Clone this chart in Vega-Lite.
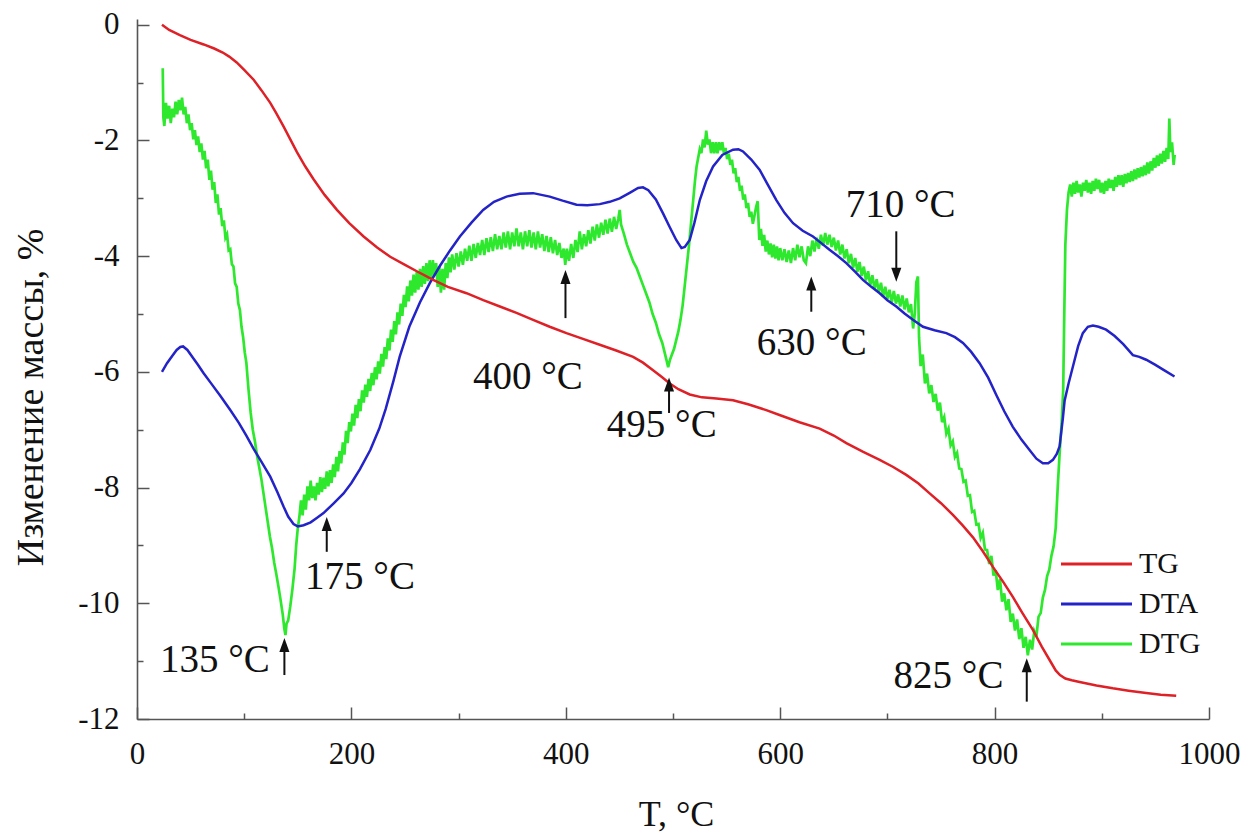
{
"$schema": "https://vega.github.io/schema/vega-lite/v6.json",
"width": 1072, "height": 700,
"autosize": {"type": "none"},
"padding": {"left": 137, "top": 19, "right": 35, "bottom": 119},
"background": "white",
"config": {
  "view": {"stroke": null},
  "font": "Liberation Serif",
  "axis": {"domainColor": "#555", "tickColor": "#555", "domainWidth": 1.6, "tickWidth": 1.5, "labelColor": "#111", "labelFontSize": 31, "labelFont": "Liberation Serif", "grid": false, "titleFont": "Liberation Serif", "titleColor": "#111", "titleFontWeight": "normal", "labelFlush": false, "labelOverlap": false}
},
"datasets": {
"tg": [
{"T":23.3,"v":0},{"T":30,"v":-0.09},{"T":40,"v":-0.18},{"T":50,"v":-0.26},{"T":62.2,"v":-0.34},{"T":72,"v":-0.41},{"T":80,"v":-0.48},{"T":86,"v":-0.55},{"T":93,"v":-0.65},{"T":100,"v":-0.78},{"T":108.8,"v":-0.95},{"T":116,"v":-1.13},{"T":124.3,"v":-1.35},{"T":130,"v":-1.53},{"T":136.8,"v":-1.76},{"T":143,"v":-1.98},{"T":149.2,"v":-2.2},{"T":157,"v":-2.45},{"T":164.7,"v":-2.67},{"T":175,"v":-2.94},{"T":186.5,"v":-3.2},{"T":198,"v":-3.43},{"T":211.4,"v":-3.66},{"T":224,"v":-3.85},{"T":236.2,"v":-4.01},{"T":250,"v":-4.15},{"T":261,"v":-4.26},{"T":276.3,"v":-4.41},{"T":290,"v":-4.53},{"T":307.4,"v":-4.64},{"T":323,"v":-4.76},{"T":338.5,"v":-4.87},{"T":354,"v":-4.98},{"T":369.5,"v":-5.1},{"T":385,"v":-5.22},{"T":400.6,"v":-5.33},{"T":416,"v":-5.43},{"T":431.7,"v":-5.53},{"T":447,"v":-5.63},{"T":462.8,"v":-5.74},{"T":472,"v":-5.84},{"T":481.4,"v":-5.97},{"T":489,"v":-6.08},{"T":497,"v":-6.2},{"T":505,"v":-6.3},{"T":515.6,"v":-6.39},{"T":527,"v":-6.44},{"T":540.5,"v":-6.46},{"T":556,"v":-6.49},{"T":570,"v":-6.56},{"T":587,"v":-6.66},{"T":600,"v":-6.75},{"T":618,"v":-6.87},{"T":636.8,"v":-6.98},{"T":650,"v":-7.1},{"T":661.7,"v":-7.23},{"T":677,"v":-7.38},{"T":692.8,"v":-7.52},{"T":705,"v":-7.64},{"T":717.6,"v":-7.78},{"T":729,"v":-7.93},{"T":739.4,"v":-8.1},{"T":750,"v":-8.27},{"T":761.1,"v":-8.47},{"T":770,"v":-8.65},{"T":779.8,"v":-8.86},{"T":789,"v":-9.1},{"T":798.4,"v":-9.37},{"T":808,"v":-9.63},{"T":817,"v":-9.89},{"T":826,"v":-10.17},{"T":835.7,"v":-10.46},{"T":844,"v":-10.75},{"T":851.3,"v":-10.98},{"T":857,"v":-11.16},{"T":861,"v":-11.24},{"T":866,"v":-11.3},{"T":872,"v":-11.33},{"T":879.3,"v":-11.36},{"T":895,"v":-11.42},{"T":910.3,"v":-11.47},{"T":925,"v":-11.51},{"T":941.4,"v":-11.55},{"T":955,"v":-11.58},{"T":969.4,"v":-11.6}
],
"dta": [
{"T":23.3,"v":-6.0},{"T":28,"v":-5.85},{"T":33,"v":-5.72},{"T":37,"v":-5.62},{"T":40.4,"v":-5.57},{"T":43,"v":-5.56},{"T":47,"v":-5.62},{"T":52,"v":-5.75},{"T":57,"v":-5.88},{"T":62,"v":-6.02},{"T":70,"v":-6.22},{"T":78,"v":-6.42},{"T":87,"v":-6.66},{"T":95,"v":-6.88},{"T":102,"v":-7.1},{"T":108.8,"v":-7.33},{"T":116,"v":-7.55},{"T":124.3,"v":-7.81},{"T":131,"v":-8.08},{"T":136.8,"v":-8.33},{"T":141,"v":-8.5},{"T":146,"v":-8.63},{"T":150,"v":-8.67},{"T":155.4,"v":-8.65},{"T":162,"v":-8.6},{"T":168,"v":-8.52},{"T":174,"v":-8.44},{"T":183,"v":-8.28},{"T":192.7,"v":-8.1},{"T":200,"v":-7.92},{"T":208,"v":-7.68},{"T":217.6,"v":-7.35},{"T":226,"v":-6.98},{"T":232,"v":-6.64},{"T":239.3,"v":-6.15},{"T":245,"v":-5.74},{"T":254,"v":-5.22},{"T":263.9,"v":-4.8},{"T":273,"v":-4.47},{"T":282.5,"v":-4.17},{"T":292,"v":-3.9},{"T":301.2,"v":-3.66},{"T":312,"v":-3.42},{"T":322.9,"v":-3.2},{"T":333,"v":-3.06},{"T":344.7,"v":-2.97},{"T":357,"v":-2.92},{"T":369.5,"v":-2.91},{"T":385,"v":-2.97},{"T":397,"v":-3.04},{"T":410,"v":-3.11},{"T":420,"v":-3.12},{"T":431.7,"v":-3.1},{"T":441,"v":-3.06},{"T":450.3,"v":-3.0},{"T":460,"v":-2.9},{"T":467.4,"v":-2.82},{"T":472,"v":-2.81},{"T":477,"v":-2.86},{"T":484,"v":-3.02},{"T":490.7,"v":-3.26},{"T":497,"v":-3.5},{"T":503,"v":-3.72},{"T":507.9,"v":-3.86},{"T":511,"v":-3.84},{"T":515.6,"v":-3.72},{"T":520,"v":-3.42},{"T":525,"v":-3.03},{"T":531,"v":-2.7},{"T":537.4,"v":-2.45},{"T":546,"v":-2.25},{"T":556,"v":-2.16},{"T":561,"v":-2.15},{"T":565.3,"v":-2.19},{"T":573,"v":-2.33},{"T":580.9,"v":-2.51},{"T":588,"v":-2.75},{"T":596.4,"v":-3.03},{"T":604,"v":-3.25},{"T":612,"v":-3.43},{"T":621,"v":-3.56},{"T":630.6,"v":-3.66},{"T":638,"v":-3.77},{"T":646,"v":-3.89},{"T":654,"v":-4.0},{"T":661.7,"v":-4.12},{"T":670,"v":-4.27},{"T":677.2,"v":-4.41},{"T":685,"v":-4.53},{"T":692.8,"v":-4.64},{"T":700,"v":-4.76},{"T":708.3,"v":-4.87},{"T":716,"v":-4.99},{"T":723.8,"v":-5.1},{"T":733.2,"v":-5.22},{"T":744,"v":-5.28},{"T":755,"v":-5.33},{"T":763,"v":-5.4},{"T":770.5,"v":-5.5},{"T":778,"v":-5.65},{"T":786,"v":-5.85},{"T":794,"v":-6.1},{"T":801.6,"v":-6.4},{"T":809,"v":-6.68},{"T":817,"v":-6.95},{"T":825,"v":-7.17},{"T":832.6,"v":-7.35},{"T":839,"v":-7.5},{"T":845,"v":-7.58},{"T":850,"v":-7.58},{"T":854.4,"v":-7.52},{"T":858,"v":-7.42},{"T":860.6,"v":-7.29},{"T":863.7,"v":-6.8},{"T":865.3,"v":-6.5},{"T":869,"v":-6.2},{"T":873,"v":-5.91},{"T":878,"v":-5.55},{"T":882.3,"v":-5.33},{"T":887,"v":-5.22},{"T":891.7,"v":-5.2},{"T":897,"v":-5.22},{"T":904,"v":-5.27},{"T":912,"v":-5.38},{"T":920,"v":-5.52},{"T":929,"v":-5.71},{"T":935,"v":-5.74},{"T":941.4,"v":-5.79},{"T":950,"v":-5.88},{"T":958,"v":-5.97},{"T":967.8,"v":-6.08}
],
"dtg": [
{"T":24,"v":-0.75},{"T":24.6,"v":-1.6},{"T":25.5,"v":-1.75},{"T":27,"v":-1.35},{"T":28.5,"v":-1.62},{"T":30,"v":-1.4},{"T":31.5,"v":-1.7},{"T":33,"v":-1.45},{"T":34.5,"v":-1.6},{"T":36,"v":-1.33},{"T":37.5,"v":-1.55},{"T":39,"v":-1.3},{"T":40.5,"v":-1.48},{"T":42,"v":-1.26},{"T":43.5,"v":-1.55},{"T":45,"v":-1.42},{"T":46.5,"v":-1.7},{"T":48,"v":-1.55},{"T":49.5,"v":-1.82},{"T":51,"v":-1.7},{"T":52.5,"v":-1.98},{"T":54,"v":-1.82},{"T":55.5,"v":-2.08},{"T":57,"v":-1.93},{"T":58.5,"v":-2.2},{"T":60,"v":-2.05},{"T":61.5,"v":-2.33},{"T":63,"v":-2.18},{"T":64.5,"v":-2.48},{"T":66,"v":-2.33},{"T":67.5,"v":-2.68},{"T":69,"v":-2.52},{"T":70.5,"v":-2.85},{"T":72,"v":-2.72},{"T":73.5,"v":-3.08},{"T":75,"v":-2.93},{"T":76.5,"v":-3.28},{"T":78,"v":-3.17},{"T":79.5,"v":-3.48},{"T":81,"v":-3.38},{"T":82.5,"v":-3.68},{"T":84,"v":-3.62},{"T":85.5,"v":-3.9},{"T":87,"v":-3.88},{"T":88.5,"v":-4.14},{"T":90,"v":-4.18},{"T":91.5,"v":-4.47},{"T":93,"v":-4.53},{"T":94.5,"v":-4.82},{"T":96,"v":-4.93},{"T":97.5,"v":-5.22},{"T":99,"v":-5.4},{"T":100.5,"v":-5.66},{"T":102,"v":-5.84},
{"T":104,"v":-6.3},{"T":106,"v":-6.7},{"T":108,"v":-7.0},{"T":110,"v":-7.2},{"T":112,"v":-7.45},{"T":114,"v":-7.65},{"T":116,"v":-7.85},{"T":118,"v":-8.1},{"T":120,"v":-8.35},{"T":122,"v":-8.6},{"T":124,"v":-8.85},{"T":126,"v":-9.05},{"T":128,"v":-9.3},{"T":130,"v":-9.5},{"T":132,"v":-9.72},{"T":134,"v":-9.95},{"T":136,"v":-10.2},{"T":137.5,"v":-10.45},{"T":138.5,"v":-10.55},{"T":139.5,"v":-10.35},{"T":141,"v":-10.3},{"T":143,"v":-10.05},{"T":145,"v":-9.75},{"T":147,"v":-9.4},{"T":148.5,"v":-9.0},{"T":150,"v":-8.7},{"T":151.5,"v":-8.5},
{"T":153,"v":-8.22},{"T":154.5,"v":-8.48},{"T":156,"v":-8.12},{"T":157.5,"v":-8.38},{"T":159,"v":-7.98},{"T":160.5,"v":-8.22},{"T":162,"v":-7.88},{"T":163.5,"v":-8.18},{"T":165,"v":-7.98},{"T":166.5,"v":-8.22},{"T":168,"v":-7.92},{"T":169.5,"v":-8.12},{"T":171,"v":-7.82},{"T":172.5,"v":-8.08},{"T":174,"v":-7.83},{"T":175.5,"v":-8.02},{"T":177,"v":-7.72},{"T":178.5,"v":-7.98},{"T":180,"v":-7.7},{"T":181.5,"v":-7.92},{"T":183,"v":-7.6},{"T":184.5,"v":-7.82},{"T":186,"v":-7.47},{"T":187.5,"v":-7.72},{"T":189,"v":-7.37},{"T":190.5,"v":-7.58},{"T":192,"v":-7.22},{"T":193.5,"v":-7.43},{"T":195,"v":-7.02},{"T":196.5,"v":-7.23},{"T":198,"v":-6.87},{"T":199.5,"v":-7.03},{"T":201,"v":-6.72},{"T":202.5,"v":-6.93},{"T":204,"v":-6.57},{"T":205.5,"v":-6.8},{"T":207,"v":-6.47},{"T":208.5,"v":-6.68},{"T":210,"v":-6.32},{"T":211.5,"v":-6.53},{"T":213,"v":-6.22},{"T":214.5,"v":-6.43},{"T":216,"v":-6.12},{"T":217.5,"v":-6.33},{"T":219,"v":-6.02},{"T":220.5,"v":-6.23},{"T":222,"v":-5.92},{"T":223.5,"v":-6.13},{"T":225,"v":-5.82},{"T":226.5,"v":-6.03},{"T":228,"v":-5.69},{"T":229.5,"v":-5.91},{"T":231,"v":-5.57},{"T":232.5,"v":-5.78},{"T":234,"v":-5.42},{"T":235.5,"v":-5.63},{"T":237,"v":-5.27},{"T":238.5,"v":-5.48},{"T":240,"v":-5.12},{"T":241.5,"v":-5.35},{"T":243,"v":-4.97},{"T":244.5,"v":-5.18},{"T":246,"v":-4.82},{"T":247.5,"v":-5.03},{"T":249,"v":-4.67},{"T":250.5,"v":-4.88},
{"T":252,"v":-4.52},{"T":253.5,"v":-4.78},{"T":255,"v":-4.42},{"T":256.5,"v":-4.68},{"T":258,"v":-4.32},{"T":259.5,"v":-4.63},{"T":261,"v":-4.27},{"T":262.5,"v":-4.58},{"T":264,"v":-4.22},{"T":265.5,"v":-4.53},{"T":267,"v":-4.17},{"T":268.5,"v":-4.48},{"T":270,"v":-4.12},{"T":271.5,"v":-4.43},{"T":273,"v":-4.07},{"T":274.5,"v":-4.38},{"T":276,"v":-4.07},{"T":277.5,"v":-4.33},{"T":279,"v":-4.12},{"T":280.5,"v":-4.53},{"T":282,"v":-4.17},{"T":283.5,"v":-4.63},{"T":285,"v":-4.22},{"T":286.5,"v":-4.58},{"T":288,"v":-4.12},{"T":289.5,"v":-4.38},{"T":291,"v":-4.02},{"T":292.5,"v":-4.28},{"T":294,"v":-3.97},{"T":296,"v":-4.23},{"T":298,"v":-3.95},{"T":300,"v":-4.18},{"T":302,"v":-3.92},{"T":304,"v":-4.15},{"T":306,"v":-3.87},{"T":308,"v":-4.08},{"T":310,"v":-3.82},{"T":312,"v":-4.08},{"T":314,"v":-3.79},{"T":316,"v":-4.03},{"T":318,"v":-3.77},{"T":320,"v":-3.98},{"T":322,"v":-3.72},{"T":324,"v":-3.98},{"T":326,"v":-3.69},{"T":328,"v":-3.93},{"T":330,"v":-3.67},{"T":332,"v":-3.91},{"T":334,"v":-3.62},{"T":336,"v":-3.88},{"T":338,"v":-3.65},{"T":340,"v":-3.88},{"T":342,"v":-3.59},{"T":344,"v":-3.85},{"T":346,"v":-3.57},{"T":348,"v":-3.88},{"T":350,"v":-3.59},{"T":352,"v":-3.83},{"T":354,"v":-3.52},{"T":356,"v":-3.83},{"T":358,"v":-3.59},{"T":360,"v":-3.88},{"T":362,"v":-3.57},{"T":364,"v":-3.83},{"T":366,"v":-3.55},{"T":368,"v":-3.85},{"T":370,"v":-3.59},{"T":372,"v":-3.88},{"T":374,"v":-3.57},{"T":376,"v":-3.85},{"T":378,"v":-3.62},{"T":380,"v":-3.91},{"T":382,"v":-3.65},{"T":384,"v":-3.93},{"T":386,"v":-3.67},{"T":388,"v":-3.95},{"T":390,"v":-3.72},{"T":392,"v":-3.98},{"T":394,"v":-3.77},{"T":396,"v":-4.03},{"T":398,"v":-3.87},{"T":399.5,"v":-4.15},{"T":401,"v":-3.87},{"T":403,"v":-4.08},{"T":405,"v":-3.79},{"T":407,"v":-4.03},{"T":409,"v":-3.72},{"T":411,"v":-3.93},{"T":413,"v":-3.57},{"T":415,"v":-3.88},{"T":417,"v":-3.62},{"T":419,"v":-3.83},{"T":421,"v":-3.55},{"T":423,"v":-3.78},{"T":425,"v":-3.49},{"T":427,"v":-3.73},{"T":429,"v":-3.45},{"T":431,"v":-3.68},{"T":433,"v":-3.42},{"T":435,"v":-3.63},{"T":437,"v":-3.37},{"T":439,"v":-3.61},{"T":441,"v":-3.35},{"T":443,"v":-3.58},{"T":445,"v":-3.32},{"T":447,"v":-3.53},{"T":449,"v":-3.35},{"T":450.3,"v":-3.2},{"T":451.5,"v":-3.45},
{"T":454,"v":-3.6},{"T":457,"v":-3.8},{"T":460,"v":-3.95},{"T":463,"v":-4.1},{"T":466,"v":-4.2},{"T":469,"v":-4.35},{"T":472,"v":-4.5},{"T":475,"v":-4.65},{"T":478,"v":-4.8},{"T":481,"v":-5.0},{"T":484,"v":-5.15},{"T":487,"v":-5.35},{"T":490,"v":-5.5},{"T":492,"v":-5.65},{"T":494,"v":-5.8},{"T":495.5,"v":-5.92},{"T":497,"v":-5.8},{"T":499,"v":-5.7},{"T":501,"v":-5.6},{"T":503,"v":-5.45},{"T":505,"v":-5.3},{"T":507,"v":-5.1},{"T":509,"v":-4.85},{"T":511,"v":-4.5},{"T":513,"v":-4.15},{"T":515,"v":-3.8},{"T":517,"v":-3.4},{"T":519,"v":-3.0},{"T":520.5,"v":-2.7},{"T":522,"v":-2.45},{"T":523.5,"v":-2.3},{"T":525,"v":-2.15},{"T":526.5,"v":-2.22},{"T":528,"v":-1.98},{"T":529.5,"v":-2.12},{"T":531,"v":-1.83},{"T":532.5,"v":-2.07},{"T":534,"v":-1.98},{"T":535.5,"v":-2.22},{"T":537,"v":-2.03},{"T":538.5,"v":-2.22},{"T":540,"v":-2.03},{"T":541.5,"v":-2.22},{"T":543,"v":-2.03},{"T":544.5,"v":-2.17},{"T":546,"v":-2.03},{"T":547.5,"v":-2.22},{"T":549,"v":-2.13},{"T":550.5,"v":-2.32},{"T":552,"v":-2.23},{"T":553.5,"v":-2.42},{"T":555,"v":-2.33},{"T":556.5,"v":-2.57},{"T":558,"v":-2.48},{"T":559.5,"v":-2.72},{"T":561,"v":-2.63},{"T":562.5,"v":-2.87},{"T":564,"v":-2.78},{"T":565.5,"v":-3.02},{"T":567,"v":-2.93},{"T":568.5,"v":-3.17},{"T":570,"v":-3.08},{"T":571.5,"v":-3.32},{"T":573,"v":-3.23},{"T":574.5,"v":-3.44},{"T":576,"v":-3.3},{"T":577.5,"v":-3.15},{"T":579,"v":-3.05},{"T":580.5,"v":-3.72},{"T":582,"v":-3.53},{"T":583.5,"v":-3.82},{"T":585,"v":-3.63},{"T":586.5,"v":-3.92},{"T":588,"v":-3.73},{"T":589.5,"v":-3.97},{"T":591,"v":-3.78},{"T":592.5,"v":-4.02},{"T":594,"v":-3.8},{"T":595.5,"v":-4.04},{"T":597,"v":-3.83},{"T":598.5,"v":-4.07},{"T":600,"v":-3.86},{"T":602,"v":-4.07},{"T":604,"v":-3.88},{"T":606,"v":-4.1},{"T":608,"v":-3.9},{"T":610,"v":-4.12},{"T":612,"v":-3.86},{"T":614,"v":-4.07},{"T":616,"v":-3.8},{"T":618,"v":-4.02},{"T":620,"v":-3.83},{"T":622,"v":-4.07},{"T":624,"v":-4.12},{"T":626,"v":-3.83},{"T":628,"v":-4.0},{"T":630,"v":-3.73},{"T":632,"v":-3.92},{"T":634,"v":-3.68},{"T":636,"v":-3.87},{"T":638,"v":-3.63},{"T":640,"v":-3.82},{"T":642,"v":-3.6},{"T":644,"v":-3.8},{"T":646,"v":-3.63},{"T":648,"v":-3.84},{"T":650,"v":-3.68},{"T":652,"v":-3.9},{"T":654,"v":-3.73},{"T":656,"v":-3.97},{"T":658,"v":-3.8},{"T":660,"v":-4.04},{"T":662,"v":-3.88},{"T":664,"v":-4.12},{"T":666,"v":-3.96},{"T":668,"v":-4.2},{"T":670,"v":-4.03},{"T":672,"v":-4.27},{"T":674,"v":-4.1},{"T":676,"v":-4.34},{"T":678,"v":-4.18},{"T":680,"v":-4.42},{"T":682,"v":-4.26},{"T":684,"v":-4.5},{"T":686,"v":-4.33},{"T":688,"v":-4.57},{"T":690,"v":-4.4},{"T":692,"v":-4.62},{"T":694,"v":-4.46},{"T":696,"v":-4.7},{"T":698,"v":-4.53},{"T":700,"v":-4.74},{"T":702,"v":-4.58},{"T":704,"v":-4.8},{"T":706,"v":-4.6},{"T":708,"v":-4.82},{"T":710,"v":-4.66},{"T":712,"v":-4.87},{"T":714,"v":-4.68},{"T":716,"v":-4.92},{"T":718,"v":-4.73},{"T":720,"v":-4.97},{"T":722,"v":-4.83},{"T":724,"v":-5.25},{"T":725.5,"v":-5.0},{"T":727,"v":-4.45},{"T":728.5,"v":-4.35},{"T":729.5,"v":-5.4},{"T":731,"v":-5.9},{"T":733,"v":-5.7},{"T":735,"v":-6.2},{"T":737,"v":-6.03},{"T":739,"v":-6.37},{"T":741,"v":-6.23},{"T":743,"v":-6.52},{"T":745,"v":-6.38},{"T":747,"v":-6.67},{"T":749,"v":-6.53},{"T":751,"v":-6.87},{"T":753,"v":-6.78},{"T":755,"v":-7.07},{"T":757,"v":-6.98},{"T":759,"v":-7.27},{"T":761,"v":-7.2},{"T":763,"v":-7.47},{"T":765,"v":-7.4},{"T":767,"v":-7.67},{"T":769,"v":-7.68},{"T":771,"v":-7.9},{"T":773,"v":-7.88},{"T":775,"v":-8.14},{"T":777,"v":-8.13},{"T":779,"v":-8.42},{"T":781,"v":-8.4},{"T":783,"v":-8.64},{"T":785,"v":-8.63},{"T":787,"v":-8.87},{"T":789,"v":-8.78},{"T":791,"v":-9.07},{"T":793,"v":-9.08},{"T":795,"v":-9.32},{"T":797,"v":-9.18},{"T":799,"v":-9.52},{"T":801,"v":-9.43},{"T":803,"v":-9.77},{"T":805,"v":-9.58},{"T":807,"v":-9.97},{"T":809,"v":-9.83},{"T":811,"v":-10.12},{"T":813,"v":-9.93},{"T":815,"v":-10.32},{"T":817,"v":-10.18},{"T":819,"v":-10.47},{"T":821,"v":-10.28},{"T":823,"v":-10.62},{"T":825,"v":-10.43},{"T":827,"v":-10.77},{"T":829,"v":-10.58},{"T":831,"v":-10.9},{"T":833,"v":-10.63},{"T":835,"v":-10.8},{"T":837,"v":-10.48},{"T":839,"v":-10.57},{"T":841,"v":-10.23},{"T":843,"v":-10.17},{"T":845,"v":-9.9},{"T":847,"v":-9.77},{"T":849,"v":-9.53},{"T":851,"v":-9.42},{"T":853,"v":-9.18},{"T":855,"v":-9.02},{"T":857,"v":-8.7},{"T":859,"v":-7.95},{"T":861,"v":-7.3},{"T":862.5,"v":-6.9},{"T":864,"v":-6.3},{"T":865,"v":-5.0},{"T":866,"v":-3.8},{"T":867.5,"v":-3.2},{"T":869,"v":-2.9},{"T":870.5,"v":-2.76},{"T":872,"v":-2.97},{"T":873.5,"v":-2.73},{"T":875,"v":-2.92},{"T":876.5,"v":-2.7},{"T":878,"v":-2.9},{"T":879.5,"v":-2.76},{"T":881,"v":-2.97},{"T":882.5,"v":-2.73},{"T":884,"v":-2.87},{"T":885.5,"v":-2.68},{"T":887,"v":-2.9},{"T":888.5,"v":-2.73},{"T":890,"v":-2.92},{"T":891.5,"v":-2.7},{"T":893,"v":-2.87},{"T":894.5,"v":-2.66},{"T":896,"v":-2.84},{"T":897.5,"v":-2.68},{"T":899,"v":-2.9},{"T":900.5,"v":-2.73},{"T":902,"v":-2.92},{"T":903.5,"v":-2.7},{"T":905,"v":-2.87},{"T":906.5,"v":-2.66},{"T":908,"v":-2.82},{"T":909.5,"v":-2.68},{"T":911,"v":-2.87},{"T":912.5,"v":-2.63},{"T":914,"v":-2.8},{"T":915.5,"v":-2.6},{"T":917,"v":-2.77},{"T":918.5,"v":-2.6},{"T":920,"v":-2.8},{"T":921.5,"v":-2.58},{"T":923,"v":-2.74},{"T":924.5,"v":-2.56},{"T":926,"v":-2.72},{"T":927.5,"v":-2.53},{"T":929,"v":-2.7},{"T":930.5,"v":-2.5},{"T":932,"v":-2.67},{"T":933.5,"v":-2.48},{"T":935,"v":-2.64},{"T":936.5,"v":-2.46},{"T":938,"v":-2.62},{"T":939.5,"v":-2.43},{"T":941,"v":-2.6},{"T":942.5,"v":-2.38},{"T":944,"v":-2.57},{"T":945.5,"v":-2.36},{"T":947,"v":-2.52},{"T":948.5,"v":-2.3},{"T":950,"v":-2.47},{"T":951.5,"v":-2.26},{"T":953,"v":-2.44},{"T":954.5,"v":-2.23},{"T":956,"v":-2.4},{"T":957.5,"v":-2.18},{"T":959,"v":-2.37},{"T":960.5,"v":-2.13},{"T":962,"v":-2.32},{"T":963,"v":-1.62},{"T":964,"v":-2.2},{"T":965.5,"v":-2.03},{"T":967,"v":-2.42},{"T":968,"v":-2.25}
],
"arrows": [
{"T":137.5,"a":-11.24,"b":-10.72,"d":"up"},
{"T":177,"a":-9.11,"b":-8.63,"d":"up"},
{"T":399.7,"a":-5.07,"b":-4.36,"d":"up"},
{"T":496.3,"a":-6.71,"b":-6.22,"d":"up"},
{"T":629,"a":-4.96,"b":-4.47,"d":"up"},
{"T":708.3,"a":-3.57,"b":-4.32,"d":"down"},
{"T":830,"a":-11.7,"b":-11.07,"d":"up"}
],
"labels": [
{"t":"135 °C","x":72.7,"y":-10.98},
{"t":"175 °C","x":208,"y":-9.54},
{"t":"400 °C","x":364.6,"y":-6.08},
{"t":"495 °C","x":489.5,"y":-6.92},
{"t":"630 °C","x":629.4,"y":-5.5},
{"t":"710 °C","x":712.4,"y":-3.11},
{"t":"825 °C","x":757,"y":-11.26}
]
},
"layer": [
{
  "data": {"name": "dtg"},
  "mark": {"type": "line", "strokeWidth": 2.7},
  "encoding": {
    "x": {"field": "T", "type": "quantitative", "scale": {"domain": [0, 1000], "nice": false, "zero": false},
      "axis": {"orient": "bottom", "values": [0, 200, 400, 600, 800, 1000], "labelExpr": "'' + datum.value", "tickSize": -12, "labelPadding": 32, "title": "T, °C", "titleFontSize": 36, "titleX": 539, "titleY": 106, "titleBaseline": "alphabetic", "titleAlign": "center", "titleAnchor": null}},
    "y": {"field": "v", "type": "quantitative", "scale": {"domain": [-12, 0.1], "nice": false, "zero": false},
      "axis": {"orient": "left", "values": [-12, -10, -8, -6, -4, -2, 0], "labelExpr": "'' + datum.value", "tickSize": -12, "labelPadding": 30, "title": "Изменение массы, %", "titleFontSize": 38, "titleX": -95, "titleY": 378, "titleBaseline": "alphabetic", "titleAlign": "center", "titleAngle": 270, "titleAnchor": null}},
    "color": {"datum": "DTG", "type": "nominal",
      "scale": {"domain": ["TG", "DTA", "DTG"], "range": ["#de2027", "#2323c8", "#2ee82e"]},
      "legend": {"orient": "none", "legendX": 914, "legendY": 530, "title": null, "padding": 0, "offset": 0,
        "symbolType": "M-1,0L13.2,0", "symbolSize": 100, "symbolStrokeWidth": 3, "labelOffset": 58, "labelFontSize": 30, "labelFont": "Liberation Serif", "labelColor": "#111", "rowPadding": 10}}
  }
},
{
  "data": {"name": "dta"},
  "mark": {"type": "line", "strokeWidth": 2.5},
  "encoding": {
    "x": {"field": "T", "type": "quantitative", "scale": {"domain": [0, 1000], "nice": false, "zero": false}, "axis": null},
    "y": {"field": "v", "type": "quantitative", "scale": {"domain": [-12, 0.1], "nice": false, "zero": false}, "axis": null},
    "color": {"datum": "DTA", "type": "nominal"}
  }
},
{
  "data": {"name": "tg"},
  "mark": {"type": "line", "strokeWidth": 2.5},
  "encoding": {
    "x": {"field": "T", "type": "quantitative", "scale": {"domain": [0, 1000], "nice": false, "zero": false}, "axis": null},
    "y": {"field": "v", "type": "quantitative", "scale": {"domain": [-12, 0.1], "nice": false, "zero": false}, "axis": null},
    "color": {"datum": "TG", "type": "nominal"}
  }
},
{
  "data": {"name": "arrows"},
  "mark": {"type": "rule", "strokeWidth": 2, "color": "#111"},
  "encoding": {
    "x": {"field": "T", "type": "quantitative", "scale": {"domain": [0, 1000], "nice": false, "zero": false},
      "axis": {"orient": "bottom", "values": [100, 300, 500, 700, 900], "tickSize": -6, "labels": false, "domain": false, "title": null}},
    "y": {"field": "a", "type": "quantitative", "scale": {"domain": [-12, 0.1], "nice": false, "zero": false},
      "axis": {"orient": "left", "values": [-11, -9, -7, -5, -3, -1], "tickSize": -6, "labels": false, "domain": false, "title": null}},
    "y2": {"field": "b"}
  }
},
{
  "data": {"name": "arrows"},
  "mark": {"type": "point", "filled": true, "size": 196, "color": "#111", "opacity": 1, "strokeWidth": 0},
  "encoding": {
    "x": {"field": "T", "type": "quantitative", "scale": {"domain": [0, 1000], "nice": false, "zero": false}, "axis": null},
    "y": {"field": "b", "type": "quantitative", "scale": {"domain": [-12, 0.1], "nice": false, "zero": false}, "axis": null},
    "shape": {"condition": {"test": "datum.d === 'down'", "value": "M0,1L-0.72,-1L0.72,-1Z"}, "value": "M0,-1L-0.72,1L0.72,1Z"}
  }
},
{
  "data": {"name": "labels"},
  "mark": {"type": "text", "fontSize": 39, "font": "Liberation Serif", "color": "#111", "align": "center", "baseline": "middle"},
  "encoding": {
    "x": {"field": "x", "type": "quantitative", "scale": {"domain": [0, 1000], "nice": false, "zero": false}, "axis": null},
    "y": {"field": "y", "type": "quantitative", "scale": {"domain": [-12, 0.1], "nice": false, "zero": false}, "axis": null},
    "text": {"field": "t"}
  }
}
],
"resolve": {"axis": {"x": "independent", "y": "independent"}}
}
